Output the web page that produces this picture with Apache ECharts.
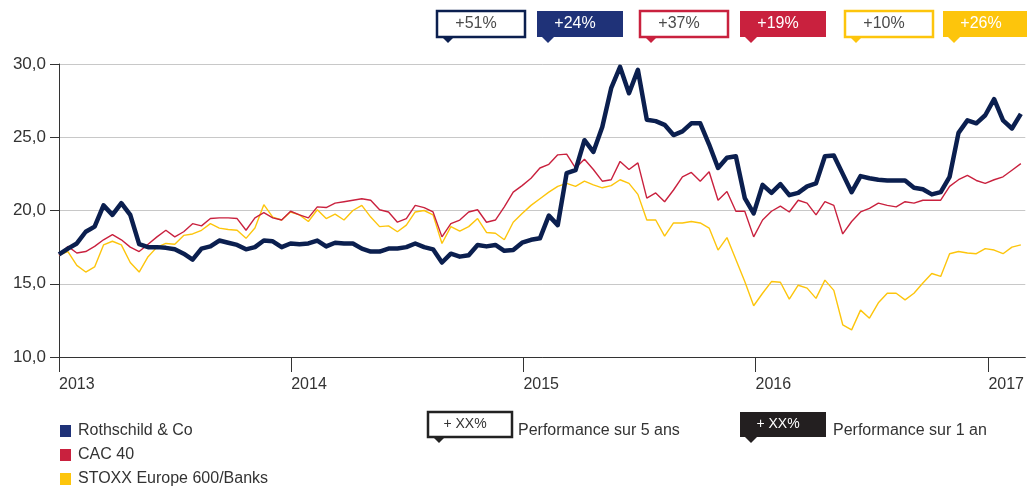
<!DOCTYPE html>
<html>
<head>
<meta charset="utf-8">
<script src="https://cdn.jsdelivr.net/npm/echarts@6/dist/echarts.min.js"></script>
<style>
  html, body { margin: 0; padding: 0; background: #fff; }
  #chart { width: 1027px; height: 488px; }
</style>
</head>
<body>
<div id="chart"></div>
<script>
// cours bimensuel, un point toutes les 2 semaines depuis le 01/01/2013
var startYear = 2013;
var stepDays = 14;

var rothschild = [
  17.0, 17.4, 17.75, 18.55, 18.9, 20.35, 19.7, 20.5, 19.7, 17.7,
  17.5, 17.5, 17.45, 17.35, 17.05, 16.65, 17.4, 17.55, 17.95, 17.8,
  17.65, 17.35, 17.5, 17.95, 17.9, 17.5, 17.75, 17.7, 17.75, 17.95,
  17.55, 17.8, 17.75, 17.75, 17.4, 17.2, 17.2, 17.4, 17.4, 17.5,
  17.75, 17.5, 17.35, 16.45, 17.05, 16.85, 16.95, 17.65, 17.55, 17.65,
  17.25, 17.3, 17.8, 18.0, 18.1, 19.65, 19.0, 22.55, 22.75, 24.8,
  24.0, 25.7, 28.35, 29.8, 28.0, 29.6, 26.2, 26.1, 25.85, 25.15,
  25.4, 25.95, 25.95, 24.5, 22.9, 23.6, 23.7, 20.85, 19.8, 21.75,
  21.2, 21.8, 21.05, 21.2, 21.65, 21.85, 23.7, 23.75, 22.5, 21.25,
  22.35, 22.2, 22.1, 22.05, 22.05, 22.05, 21.55, 21.45, 21.1, 21.25,
  22.3, 25.3, 26.15, 25.95, 26.5, 27.6, 26.15, 25.6, 26.6
];
var cac40 = [
  16.95, 17.55, 17.1, 17.2, 17.55, 18.0, 18.35, 18.0, 17.5, 17.2,
  17.7, 18.2, 18.65, 18.2, 18.55, 19.1, 18.95, 19.45, 19.5, 19.5,
  19.45, 18.65, 19.5, 19.85, 19.5, 19.35, 19.95, 19.7, 19.5, 20.25,
  20.2, 20.5, 20.6, 20.7, 20.8, 20.7, 20.05, 19.9, 19.2, 19.45,
  20.35, 20.2, 19.9, 18.2, 19.1, 19.35, 19.9, 20.05, 19.2, 19.35,
  20.25, 21.25, 21.7, 22.2, 22.9, 23.15, 23.8, 23.85, 22.9, 23.5,
  22.8, 22.0, 22.1, 23.35, 22.8, 23.25, 20.85, 21.2, 20.6, 21.4,
  22.3, 22.6, 22.0, 22.65, 20.7, 21.3, 19.95, 19.95, 18.2, 19.35,
  19.95, 20.3, 19.9, 20.7, 20.5, 19.7, 20.6, 20.35, 18.4, 19.25,
  19.9, 20.15, 20.5, 20.35, 20.25, 20.6, 20.5, 20.7, 20.7, 20.7,
  21.65, 22.1, 22.4, 22.05, 21.85, 22.1, 22.3, 22.75, 23.2
];
var stoxxBanks = [
  16.95, 17.2, 16.25, 15.8, 16.15, 17.65, 17.9, 17.65, 16.45, 15.8,
  16.85, 17.5, 17.75, 17.7, 18.3, 18.4, 18.65, 19.1, 18.8, 18.7,
  18.65, 18.1, 18.8, 20.4, 19.55, 19.35, 19.9, 19.7, 19.25, 20.05,
  19.45, 19.75, 19.35, 20.0, 20.35, 19.55, 18.9, 18.95, 18.55, 19.0,
  19.9, 20.0, 19.7, 17.75, 18.9, 18.6, 18.9, 19.45, 18.5, 18.45,
  18.0, 19.2, 19.8, 20.35, 20.8, 21.25, 21.65, 21.85, 21.65, 22.0,
  21.75, 21.55, 21.7, 22.1, 21.85, 21.1, 19.35, 19.35, 18.25, 19.15,
  19.15, 19.25, 19.15, 18.8, 17.3, 18.15, 16.65, 15.15, 13.5, 14.35,
  15.15, 15.1, 13.95, 14.9, 14.7, 14.0, 15.25, 14.55, 12.2, 11.85,
  13.2, 12.65, 13.7, 14.35, 14.35, 13.9, 14.35, 15.05, 15.7, 15.5,
  17.05, 17.2, 17.1, 17.05, 17.4, 17.3, 17.05, 17.5, 17.65
];

var seriesNames = ["Rothschild & Co", "CAC 40", "STOXX Europe 600/Banks"];
var yearTicks = [2013, 2014, 2015, 2016, 2017];
var perf5ans = ["+51%", "+37%", "+10%"];
var perf1an = ["+24%", "+19%", "+26%"];

var NAVY = "#0b1f4f", NAVY_FILL = "#1f3278", RED = "#c9213e", YELLOW = "#fdc50c";
var FONT = "'Liberation Sans', Arial, sans-serif";

function toPairs(values) {
  return values.map(function (v, i) {
    return [new Date(startYear, 0, 1 + i * stepDays).getTime(), v];
  });
}

var yearStamps = yearTicks.map(function (y) { return new Date(y, 0, 1).getTime(); });

// étiquettes de performance (haut) et légende des étiquettes (bas)
function badge(x, y, w, h, color, filled, label, textColor, fontSize) {
  return {
    type: "group",
    children: [
      { type: "rect", shape: { x: x, y: y, width: w, height: h },
        style: { fill: filled ? color : "#fff", stroke: color, lineWidth: filled ? 0 : 2.5 } },
      { type: "polygon", shape: { points: [[x + 5, y + h], [x + 17, y + h], [x + 11, y + h + 6]] },
        style: { fill: color } },
      { type: "text", x: x + w / 2 - 5, y: y + h / 2,
        style: { text: label, fill: textColor, font: fontSize + "px " + FONT,
                 align: "center", verticalAlign: "middle" } }
    ]
  };
}

var badgeColors = [NAVY, RED, YELLOW];
var badgeFills = [NAVY_FILL, RED, YELLOW];
var badgeX = [437, 537, 640, 740, 845, 943];
var graphics = [];
for (var k = 0; k < 3; k++) {
  graphics.push(badge(badgeX[2 * k], 11, 88, 26, badgeColors[k], false, perf5ans[k], "#4a4a4a", 16));
  graphics.push(badge(badgeX[2 * k + 1], 11, 86, 26, badgeFills[k], true, perf1an[k], "#fff", 16));
}
graphics.push(badge(428, 412, 84, 25, "#222", false, "+ XX%", "#333", 14));
graphics.push(badge(740, 412, 86, 25, "#231f20", true, "+ XX%", "#fff", 14));
graphics.push({ type: "text", x: 518, y: 431,
  style: { text: "Performance sur 5 ans", fill: "#333", font: "16px " + FONT, verticalAlign: "middle" } });
graphics.push({ type: "text", x: 833, y: 431,
  style: { text: "Performance sur 1 an", fill: "#333", font: "16px " + FONT, verticalAlign: "middle" } });

var chart = echarts.init(document.getElementById("chart"));
chart.setOption({
  animation: false,
  textStyle: { fontFamily: FONT },
  grid: { left: 59, right: 1, top: 64, bottom: 131 },
  legend: {
    orient: "vertical",
    left: 60,
    top: 423,
    padding: 0,
    itemGap: 8,
    itemWidth: 11,
    itemHeight: 12,
    icon: "rect",
    textStyle: { fontSize: 16, color: "#333", lineHeight: 16, padding: [0, 0, 0, 2] },
    data: [
      { name: seriesNames[0], itemStyle: { color: NAVY_FILL } },
      { name: seriesNames[1], itemStyle: { color: RED } },
      { name: seriesNames[2], itemStyle: { color: YELLOW } }
    ]
  },
  xAxis: {
    type: "value",
    min: new Date(2013, 0, 1).getTime(),
    max: new Date(2017, 1, 28).getTime(),
    axisLine: { lineStyle: { color: "#333", width: 1 } },
    axisTick: { show: true, length: 15, lineStyle: { color: "#333" }, customValues: yearStamps },
    axisLabel: {
      customValues: yearStamps,
      formatter: function (v) { return String(new Date(v).getFullYear()); },
      align: "left",
      margin: 20,
      fontSize: 16,
      color: "#333"
    },
    splitLine: { show: false }
  },
  yAxis: {
    type: "value",
    min: 10,
    max: 30,
    interval: 5,
    axisLine: { show: true, lineStyle: { color: "#333", width: 1 } },
    axisTick: { show: true, length: 9, lineStyle: { color: "#333" } },
    axisLabel: {
      formatter: function (v) { return v.toFixed(1).replace(".", ","); },
      fontSize: 17,
      color: "#333",
      margin: 13,
      padding: [0, 0, 8, 0]
    },
    splitLine: { lineStyle: { color: "#c8c8c8", width: 1 } }
  },
  series: [
    { name: seriesNames[2], type: "line", data: toPairs(stoxxBanks), showSymbol: false,
      lineStyle: { color: YELLOW, width: 1.4 }, itemStyle: { color: YELLOW }, z: 2 },
    { name: seriesNames[1], type: "line", data: toPairs(cac40), showSymbol: false,
      lineStyle: { color: RED, width: 1.4 }, itemStyle: { color: RED }, z: 3 },
    { name: seriesNames[0], type: "line", data: toPairs(rothschild), showSymbol: false,
      lineStyle: { color: NAVY, width: 4.5, join: "round" }, itemStyle: { color: NAVY }, z: 4 }
  ],
  graphic: graphics
});
</script>
</body>
</html>
